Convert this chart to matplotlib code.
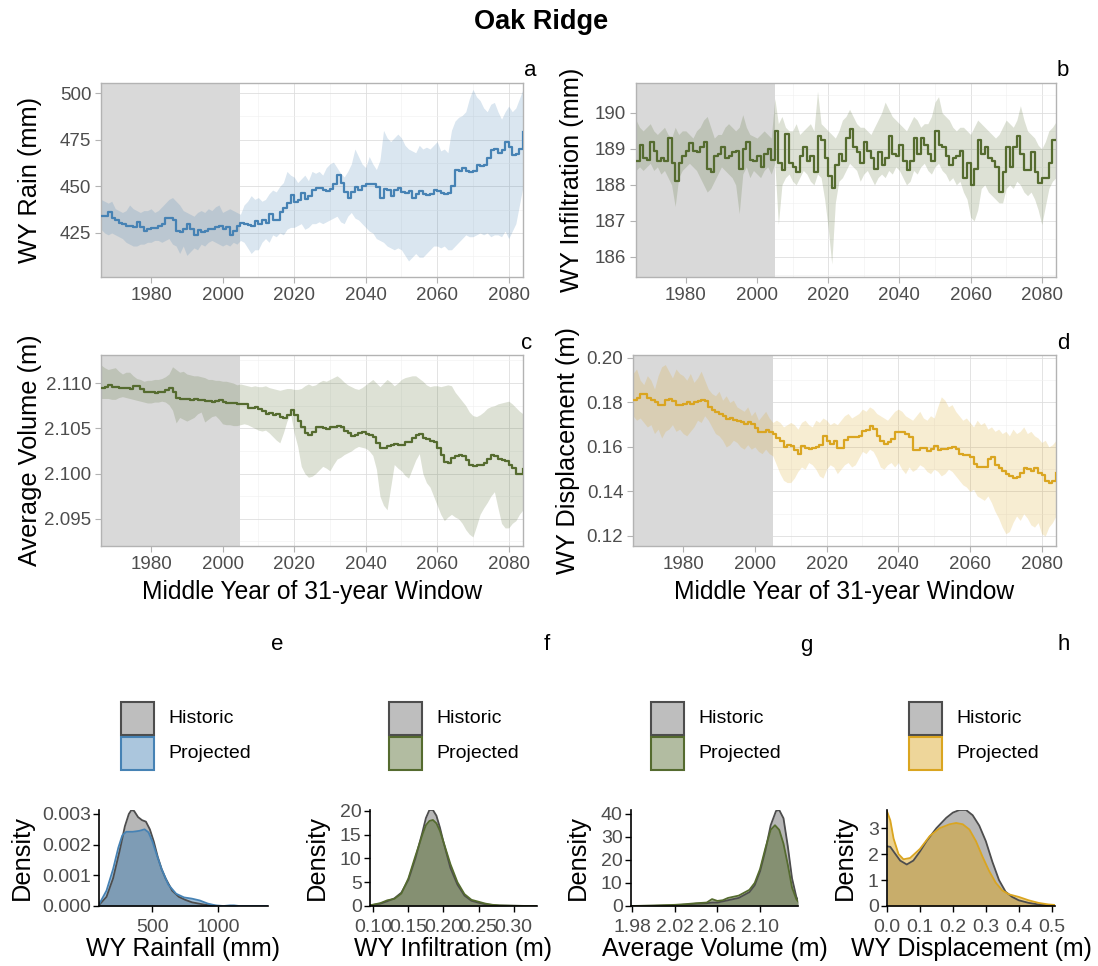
import numpy as np
import matplotlib
matplotlib.use("Agg")
import matplotlib.pyplot as plt
from matplotlib.patches import Rectangle
from matplotlib.ticker import MultipleLocator, FormatStrFormatter
from matplotlib.colors import to_rgba

plt.rcParams["font.family"] = ["Liberation Sans", "DejaVu Sans"]

W, H = 1098, 966

# ---------------------------------------------------------------- data
years = np.arange(1966, 2085)
HIST_END = 2005

rain_mean = [
    434, 434, 436, 433, 432, 430.5, 430, 429, 429, 428,
    431, 428, 426, 427, 427.5, 427.5, 429, 430, 433, 433,
    432, 426, 425.5, 427, 430, 427, 424, 426.5, 425.5, 426,
    427, 427, 428, 428.5, 427, 428, 424, 426, 429, 430.5,
    430, 429.5, 429, 431.5, 430, 432, 430.5, 435, 432, 432,
    436, 438.5, 441, 445.5, 441.5, 442.5, 446.5, 443, 445, 448,
    449, 449, 448, 447.5, 448.5, 451, 456, 452, 447, 444,
    447, 449.5, 448, 450, 451.5, 451.5, 451, 449.5, 444, 448.5,
    448, 445, 448, 449, 447, 446.5, 447.5, 444, 446, 447.5,
    446, 445.5, 446, 448, 447.5, 446.5, 446, 446.5, 450, 458.5,
    458, 460, 458, 457.5, 458, 461.5, 461, 461.5, 465, 469.5,
    470, 468, 469.5, 474, 471, 467, 467.5, 470, 479,
]
rain_high = [
    443, 442, 441, 442, 438, 437, 436, 437, 440, 438,
    437, 436, 437, 437, 438, 436, 437, 439, 441, 443,
    444, 442, 440, 437, 436, 435, 434, 436, 437, 436,
    438, 437, 439, 440, 436, 437, 438, 437, 436, 435,
    440, 442, 445, 443, 444, 442, 443, 446, 448, 447,
    450, 452, 458, 456, 455, 452, 454, 456, 453, 458,
    457, 458, 456, 460, 462, 463, 460, 457, 455, 458,
    462, 470, 466, 462, 460, 466, 462, 459, 464, 480,
    476, 474, 476, 478, 476, 472, 470, 469, 468, 472,
    470, 471, 470, 472, 474, 469, 470, 468, 480, 485,
    487, 488, 490, 497, 502, 498, 496, 492, 490, 494,
    495, 490, 486, 490, 493, 490, 492, 497, 502,
]
rain_low = [
    427, 425, 424, 425, 424, 423, 422, 420, 419, 418,
    418, 419, 419, 420, 420, 421, 421, 420, 421, 422,
    419, 418, 414, 418, 413, 415, 417, 416, 419, 418,
    420, 421, 420, 419, 418, 419, 418, 420, 419, 421,
    420, 417, 414, 416, 416, 420, 422, 420, 424, 423,
    425, 424, 427, 428, 428, 429, 430, 427, 428, 430,
    430, 431, 430, 431, 432, 433, 434, 431, 430, 434,
    436, 433, 432, 430, 428, 426, 425, 422, 421, 420,
    418, 417, 416, 417, 416, 413, 410, 412, 414, 412,
    412, 414, 416, 418, 418, 417, 418, 416, 416, 418,
    420, 422, 424, 423, 423, 424, 425, 424, 425, 423,
    424, 424, 423, 426, 422, 426, 430, 440, 450,
]

infil_mean = [
    188.65, 189.1, 188.75, 188.7, 189.2, 188.95, 188.65, 188.75, 188.65, 189.3,
    188.6, 188.1, 188.6, 188.8, 188.95, 189.15, 188.95, 188.9, 189.05, 189.2,
    188.45, 188.35, 188.8, 188.85, 189.05, 188.75, 188.8, 188.9, 188.95, 188.45,
    189.0, 189.2, 188.7, 188.65, 188.8, 188.5, 188.85, 189.0, 188.7, 189.5,
    188.6, 188.4, 189.4, 188.6, 188.5, 188.35, 188.8, 189.05, 188.65, 188.8,
    188.35, 189.35, 189.25, 188.75, 188.25, 187.9, 188.55, 188.85, 188.65, 189.3,
    189.55, 189.05, 188.9, 188.6, 189.2, 188.95, 188.75, 188.45, 188.9, 188.55,
    188.75, 189.35, 188.85, 188.8, 189.1, 188.65, 188.4, 188.65, 189.3, 188.85,
    189.3, 189.1, 188.85, 188.65, 189.5, 189.1, 189.05, 188.8, 188.55, 188.75,
    188.8, 188.95, 188.2, 188.6, 188.0, 188.45, 189.25, 188.85, 189.05, 188.75,
    188.65, 188.5, 187.8, 188.35, 189.05, 188.5, 189.05, 189.35, 188.85, 188.4,
    188.4, 188.9, 188.35, 188.05, 188.2, 188.2, 188.6, 189.25, 189.25,
]
infil_high = [
    189.8, 189.6, 189.5, 189.6, 189.7, 189.5, 189.4, 189.5, 189.6, 189.4,
    189.3, 189.6, 189.4, 189.5, 189.5, 189.4, 189.3, 189.5, 189.6, 189.8,
    189.9, 189.6, 189.3, 189.4, 189.4, 189.6, 189.7, 189.6, 189.5, 189.6,
    189.95, 189.6, 189.4, 189.35, 189.3, 189.4, 189.5, 189.4, 189.3, 190.4,
    189.7, 189.9, 189.6, 189.5, 189.5, 189.7, 189.4, 189.5, 189.6, 189.7,
    189.5, 190.6, 189.7, 189.6, 189.5, 189.4, 189.3, 189.5, 189.8, 189.9,
    190.1, 189.9, 189.7, 189.6, 189.6, 189.5, 189.4, 189.6, 189.8, 190.0,
    190.3, 190.1, 189.9, 189.8, 189.7, 189.6, 189.5, 189.7, 189.9, 189.8,
    189.6, 189.7, 189.7, 189.9, 190.3, 190.45, 190.0, 189.9, 189.8, 189.6,
    189.5, 189.6, 189.6, 189.5, 189.4, 189.6, 189.8, 189.7, 189.6, 189.5,
    189.4, 189.3, 189.4, 189.6, 189.8, 189.7, 189.6, 189.8, 190.2, 189.8,
    189.5, 189.4, 189.3, 189.1, 189.0, 189.2, 189.5, 189.6, 189.75,
]
infil_low = [
    188.4, 188.5, 188.4, 188.5, 188.6, 188.4, 188.5, 188.3, 188.4, 188.2,
    188.0, 187.4, 188.2, 188.4, 188.5, 188.6, 188.5, 188.4, 188.2, 188.0,
    187.8, 187.9, 188.1, 188.3, 188.5, 188.4, 188.3, 188.2, 188.0, 187.2,
    188.3, 188.5, 188.2, 188.4, 188.3, 188.2, 188.4, 188.5, 188.3, 188.6,
    186.9, 188.0, 188.2, 188.3, 188.1, 188.0, 188.2, 188.4, 188.3, 188.1,
    188.0, 188.3, 188.2, 187.6, 186.8, 185.8, 187.5, 188.1, 188.2, 188.4,
    188.6, 188.5, 188.4, 188.1, 188.3, 188.4, 188.2, 188.0, 188.2, 188.3,
    188.2, 188.4, 188.3, 188.5, 188.4, 188.2, 188.0, 188.1, 188.4, 188.3,
    188.5, 188.6, 188.4, 188.3, 188.5, 188.6, 188.4, 188.3, 188.1, 188.2,
    188.0, 188.1, 187.8, 187.6, 187.1, 187.0, 187.3, 187.9, 188.0, 187.8,
    187.7, 187.6, 187.5, 187.5, 187.9, 188.0, 187.9, 188.1, 188.0, 187.8,
    187.7, 187.8, 187.6, 187.3, 186.9, 187.4, 187.9, 188.1, 188.2,
]

vol_mean = [
    2.1095, 2.1096, 2.1098, 2.1096, 2.1096, 2.1095, 2.1095, 2.1094, 2.1093, 2.1097,
    2.1097, 2.1093, 2.1090, 2.1090, 2.1090, 2.1089, 2.1090, 2.1090, 2.1092, 2.1095,
    2.1090, 2.1084, 2.1082, 2.1082, 2.1082, 2.1081, 2.1082, 2.1081, 2.1081, 2.1080,
    2.1080, 2.1079, 2.1080, 2.1081, 2.1079, 2.1078, 2.1078, 2.1078, 2.1077, 2.1077,
    2.1077, 2.1072, 2.1073, 2.1074, 2.1071, 2.1069, 2.1066, 2.1067, 2.1065, 2.1066,
    2.1063, 2.1061, 2.1065, 2.1070, 2.1065, 2.1058, 2.1052, 2.1045, 2.1043, 2.1046,
    2.1051, 2.1052, 2.1050, 2.1049, 2.1051, 2.1052, 2.1053, 2.1051, 2.1047, 2.1045,
    2.1042, 2.1043, 2.1045, 2.1046, 2.1044, 2.1043, 2.1040, 2.1034, 2.1028, 2.1028,
    2.1031, 2.1032, 2.1033, 2.1032, 2.1032, 2.1035, 2.1035, 2.1039, 2.1043, 2.1044,
    2.1039, 2.1038, 2.1036, 2.1035, 2.1028, 2.1020, 2.1013, 2.1012, 2.1017, 2.1019,
    2.1020, 2.1019, 2.1015, 2.1009, 2.1008, 2.1009, 2.1009, 2.1012, 2.1016, 2.1020,
    2.1019, 2.1016, 2.1015, 2.1014, 2.1010, 2.1006, 2.1000, 2.1000, 2.1005,
]
vol_high = [
    2.1120, 2.1117, 2.1115, 2.1116, 2.1117, 2.1113, 2.1110, 2.1112, 2.1112, 2.1108,
    2.1105, 2.1104, 2.1102, 2.1103, 2.1103, 2.1104, 2.1104, 2.1105, 2.1107, 2.1110,
    2.1118, 2.1115, 2.1112, 2.1113, 2.1110, 2.1109, 2.1108, 2.1108, 2.1107, 2.1106,
    2.1104, 2.1104, 2.1103, 2.1103, 2.1102, 2.1102, 2.1101, 2.1100, 2.1098, 2.1099,
    2.1098, 2.1097, 2.1096, 2.1097, 2.1096, 2.1096, 2.1097, 2.1095, 2.1094, 2.1093,
    2.1092, 2.1093, 2.1094, 2.1094, 2.1093, 2.1093, 2.1094, 2.1097, 2.1099, 2.1097,
    2.1098, 2.1101, 2.1103, 2.1102, 2.1104, 2.1106, 2.1108, 2.1105, 2.1101, 2.1098,
    2.1096, 2.1094, 2.1093, 2.1095, 2.1098, 2.1101, 2.1104, 2.1100, 2.1096, 2.1100,
    2.1104, 2.1101, 2.1097, 2.1100, 2.1104, 2.1106, 2.1107, 2.1108, 2.1108, 2.1105,
    2.1102, 2.1098, 2.1096, 2.1097, 2.1097, 2.1096, 2.1097, 2.1098, 2.1097, 2.1090,
    2.1085, 2.1080, 2.1075, 2.1068, 2.1064, 2.1063, 2.1065, 2.1068, 2.1072, 2.1074,
    2.1075, 2.1077, 2.1078, 2.1079, 2.1080, 2.1077, 2.1073, 2.1069, 2.1066,
]
vol_low = [
    2.1083, 2.1083, 2.1083, 2.1082, 2.1082, 2.1084, 2.1085, 2.1084, 2.1083, 2.1082,
    2.1081, 2.1080, 2.1079, 2.1078, 2.1078, 2.1079, 2.1079, 2.1080, 2.1079, 2.1076,
    2.1070, 2.1056, 2.1062, 2.1060, 2.1058, 2.1060, 2.1062, 2.1066, 2.1068, 2.1057,
    2.1060, 2.1063, 2.1064, 2.1060, 2.1055, 2.1054, 2.1054, 2.1053, 2.1053, 2.1054,
    2.1055, 2.1054, 2.1052, 2.1050, 2.1048, 2.1047, 2.1048, 2.1045, 2.1041, 2.1037,
    2.1034, 2.1045, 2.1058, 2.1066, 2.1045, 2.1030, 2.1008, 2.1000, 2.0996, 2.0997,
    2.1000, 2.1004, 2.1008, 2.1006, 2.1003, 2.1010, 2.1016, 2.1018, 2.1021, 2.1023,
    2.1025, 2.1028, 2.1030, 2.1029, 2.1028, 2.1025, 2.1020, 2.1005, 2.0975, 2.0965,
    2.0960, 2.0985, 2.1010, 2.1006, 2.1003, 2.0998, 2.0995, 2.1005, 2.1015, 2.1022,
    2.1000, 2.0990, 2.0985, 2.0975, 2.0965, 2.0955, 2.0948, 2.0952, 2.0955, 2.0952,
    2.0950, 2.0945, 2.0938, 2.0933, 2.0930, 2.0942, 2.0955, 2.0962, 2.0968, 2.0975,
    2.0980, 2.0962, 2.0945, 2.0940, 2.0940, 2.0945, 2.0948, 2.0955, 2.0960,
]

disp_mean = [
    0.1813, 0.182, 0.184, 0.184, 0.182, 0.181, 0.180, 0.179, 0.179, 0.181,
    0.1815, 0.1805, 0.179, 0.179, 0.1795, 0.180, 0.1795, 0.180, 0.1805, 0.181,
    0.1805, 0.178, 0.1765, 0.1755, 0.175, 0.174, 0.1725, 0.173, 0.172, 0.1715,
    0.171, 0.1705, 0.171, 0.1705, 0.1685, 0.1665, 0.1665, 0.1675, 0.1665, 0.166,
    0.164, 0.1625, 0.160, 0.161, 0.1605, 0.1585, 0.157, 0.1605, 0.1595, 0.159,
    0.1595, 0.160, 0.161, 0.165, 0.1625, 0.1615, 0.1625, 0.1595, 0.1595, 0.163,
    0.1645, 0.1645, 0.1645, 0.165, 0.167, 0.1675, 0.1695, 0.168, 0.165, 0.1625,
    0.1615, 0.162, 0.1635, 0.1665, 0.1665, 0.1665, 0.166, 0.1645, 0.1585, 0.1585,
    0.1595, 0.1595, 0.158, 0.159, 0.1605, 0.1585, 0.159, 0.159, 0.1595, 0.160,
    0.159, 0.157, 0.1565, 0.1565, 0.1555, 0.1525, 0.151, 0.151, 0.151, 0.1545,
    0.1555, 0.152, 0.1505, 0.149, 0.148, 0.147, 0.146, 0.1465, 0.1485, 0.1505,
    0.150, 0.149, 0.1505, 0.1485, 0.1475, 0.1445, 0.144, 0.1445, 0.1485,
]
disp_high = [
    0.193, 0.195, 0.190, 0.188, 0.192, 0.190, 0.186, 0.192, 0.196, 0.197,
    0.194, 0.191, 0.195, 0.193, 0.192, 0.190, 0.193, 0.189, 0.191, 0.194,
    0.190, 0.186, 0.184, 0.183, 0.185, 0.181, 0.183, 0.180, 0.181, 0.178,
    0.177, 0.176, 0.178, 0.174, 0.176, 0.172, 0.174, 0.176, 0.173, 0.171,
    0.172, 0.171, 0.169, 0.170, 0.171, 0.170, 0.168, 0.171, 0.172, 0.170,
    0.169, 0.172, 0.171, 0.173, 0.172, 0.170, 0.171, 0.170, 0.172, 0.174,
    0.175, 0.173, 0.174, 0.175, 0.177, 0.176, 0.178, 0.177, 0.175, 0.174,
    0.173, 0.172, 0.174, 0.176, 0.177, 0.176, 0.174, 0.173, 0.172, 0.174,
    0.176, 0.173, 0.172, 0.174, 0.173, 0.178, 0.1825, 0.181, 0.178, 0.179,
    0.176, 0.174, 0.172, 0.173, 0.171, 0.169, 0.172, 0.170, 0.171, 0.168,
    0.169, 0.167, 0.168, 0.166, 0.167, 0.165, 0.168, 0.166, 0.167, 0.169,
    0.166, 0.167, 0.165, 0.164, 0.162, 0.163, 0.160, 0.161, 0.163,
]
disp_low = [
    0.174, 0.172, 0.173, 0.171, 0.169, 0.170, 0.166, 0.168, 0.164, 0.167,
    0.168, 0.170, 0.167, 0.168, 0.166, 0.165, 0.167, 0.169, 0.172, 0.171,
    0.174, 0.172, 0.169, 0.166, 0.165, 0.163, 0.160, 0.161, 0.163, 0.162,
    0.160, 0.159, 0.161, 0.159, 0.160, 0.158, 0.157, 0.159, 0.157, 0.156,
    0.152, 0.148, 0.145, 0.144, 0.144, 0.146, 0.149, 0.151, 0.150, 0.153,
    0.152, 0.150, 0.147, 0.146, 0.150, 0.152, 0.151, 0.148, 0.150, 0.152,
    0.153, 0.151, 0.152, 0.155, 0.158, 0.157, 0.159, 0.158, 0.155, 0.151,
    0.150, 0.152, 0.153, 0.151, 0.153, 0.150, 0.148, 0.151, 0.149, 0.150,
    0.152, 0.151, 0.149, 0.148, 0.150, 0.149, 0.147, 0.148, 0.150, 0.149,
    0.147, 0.145, 0.143, 0.142, 0.140, 0.141, 0.138, 0.137, 0.136, 0.138,
    0.135, 0.131, 0.128, 0.124, 0.121, 0.122, 0.126, 0.129, 0.127, 0.130,
    0.128, 0.125, 0.124, 0.126, 0.121, 0.120, 0.124, 0.126, 0.129,
]

# density curves (historic vs projected)
rain_x_hist = [93, 150, 200, 250, 290, 320, 340, 360, 390, 420, 450, 480, 510,
               540, 570, 600, 650, 700, 750, 800, 850, 900, 950, 1000]
rain_d_hist = [0.00003, 0.0003, 0.0009, 0.0018, 0.0026, 0.0030, 0.00313, 0.0031,
               0.0029, 0.0028, 0.00275, 0.0025, 0.0021, 0.0016, 0.0012, 0.0009,
               0.0005, 0.0003, 0.0002, 0.00012, 0.00008, 0.00004, 0.00002, 0.0]
rain_x_proj = [93, 150, 200, 240, 270, 300, 350, 400, 440, 470, 500, 530, 570,
               620, 680, 740, 800, 860, 920, 980, 1040, 1090, 1120, 1160, 1379]
rain_d_proj = [0.00005, 0.0005, 0.0012, 0.0019, 0.0023, 0.00242, 0.00242,
               0.00245, 0.0025, 0.0024, 0.0021, 0.0017, 0.0012, 0.0007, 0.0004,
               0.00028, 0.00024, 0.00018, 0.00008, 0.00002, 0.0, 0.00002,
               0.00002, 0.0, 0.0]

inf_x_hist = [0.0953, 0.11, 0.12, 0.13, 0.14, 0.15, 0.16, 0.17, 0.175, 0.18,
              0.185, 0.19, 0.195, 0.20, 0.21, 0.22, 0.23, 0.24, 0.25, 0.26,
              0.27, 0.28, 0.30, 0.32, 0.3334]
inf_d_hist = [0.1, 0.5, 1.0, 1.6, 2.8, 5.5, 10, 15.5, 18.5, 20.2, 20.2, 19,
              16.5, 13.5, 8, 4.5, 2.2, 1.1, 0.7, 0.35, 0.2, 0.1, 0.05, 0.0, 0.0]
inf_x_proj = inf_x_hist
inf_d_proj = [0.15, 0.6, 1.2, 1.5, 2.6, 5.8, 10.5, 15, 17, 17.9, 18.1, 17.4,
              15.8, 13.5, 8.8, 5, 2.5, 1.3, 0.9, 0.5, 0.25, 0.12, 0.05, 0.01, 0.0]

vol_x_hist = [1.979, 2.00, 2.02, 2.03, 2.04, 2.05, 2.055, 2.06, 2.07, 2.08,
              2.09, 2.095, 2.10, 2.105, 2.11, 2.115, 2.118, 2.122, 2.126,
              2.13, 2.134, 2.1356]
vol_d_hist = [0, 0.1, 0.3, 0.6, 1.0, 1.2, 1.5, 1.5, 2.5, 3.5, 6, 9, 15, 24,
              35, 41.2, 41.6, 38, 26, 12, 4, 2.5]
vol_x_proj = [1.979, 2.00, 2.02, 2.03, 2.04, 2.05, 2.055, 2.06, 2.065, 2.07,
              2.08, 2.09, 2.095, 2.10, 2.105, 2.11, 2.114, 2.118, 2.122,
              2.126, 2.13, 2.134, 2.1356]
vol_d_proj = [0, 0.2, 0.5, 0.8, 1.2, 1.5, 3.0, 2.2, 2.5, 3.5, 4.5, 7, 10, 16,
              25, 33, 35, 33, 27, 18, 8, 3, 2]

disp_x_hist = [0.0, 0.01, 0.02, 0.04, 0.06, 0.08, 0.10, 0.12, 0.15, 0.18,
               0.20, 0.22, 0.24, 0.26, 0.28, 0.30, 0.32, 0.34, 0.36, 0.38,
               0.40, 0.43, 0.46, 0.49, 0.51]
disp_d_hist = [2.3, 2.28, 2.1, 1.75, 1.6, 1.75, 2.1, 2.5, 3.0, 3.4, 3.6, 3.7,
               3.7, 3.5, 3.1, 2.5, 1.7, 1.0, 0.55, 0.35, 0.22, 0.12, 0.06,
               0.03, 0.02]
disp_x_proj = [0.0, 0.01, 0.02, 0.035, 0.05, 0.07, 0.10, 0.13, 0.16, 0.19,
               0.21, 0.23, 0.25, 0.27, 0.29, 0.31, 0.33, 0.35, 0.37, 0.40,
               0.43, 0.46, 0.49, 0.51]
disp_d_proj = [3.65, 3.3, 2.6, 2.0, 1.8, 1.85, 2.2, 2.7, 3.0, 3.15, 3.2,
               3.15, 2.95, 2.5, 1.9, 1.35, 0.9, 0.6, 0.45, 0.35, 0.22, 0.12,
               0.06, 0.04]

BLUE = "#4682b4"
GREEN = "#556b2f"
GOLD = "#daa520"
HIST_FILL = "#707070"
HIST_EDGE = "#4d4d4d"
TICK_GREY = "#4d4d4d"


# ---------------------------------------------------------------- helpers
fig = plt.figure(figsize=(W / 100, H / 100), dpi=100)


def px_axes(x0, y0, x1, y1):
    """Axes from pixel box (left, top, right, bottom), origin top-left."""
    return fig.add_axes([x0 / W, 1 - y1 / H, (x1 - x0) / W, (y1 - y0) / H])


def px_text(x, y, s, **kw):
    fig.text(x / W, 1 - y / H, s, ha="center", va="center", **kw)


def ts_panel(box, mean, low, high, color, ylim, ystep, fmt, ylabel, ylab_x,
             xlabel=False):
    ax = px_axes(*box)
    ax.axvspan(1900, HIST_END, color="#d9d9d9", lw=0, zorder=1)
    ax.fill_between(years, low, high, color=color, alpha=0.2, lw=0, zorder=2)
    ax.step(years, mean, where="post", color=color, lw=1.6, zorder=3)
    ax.set_xlim(years[0], years[-1])
    ax.set_ylim(*ylim)
    ax.xaxis.set_major_locator(MultipleLocator(20))
    ax.xaxis.set_minor_locator(MultipleLocator(10))
    ax.yaxis.set_major_locator(MultipleLocator(ystep))
    ax.yaxis.set_minor_locator(MultipleLocator(ystep / 2))
    ax.yaxis.set_major_formatter(FormatStrFormatter(fmt))
    ax.grid(which="major", color="#dedede", lw=0.6)
    ax.grid(which="minor", color="#f0f0f0", lw=0.4)
    ax.set_axisbelow(True)
    for sp in ax.spines.values():
        sp.set_color("#b3b3b3")
        sp.set_linewidth(1.0)
    ax.tick_params(which="major", length=4, color="#b3b3b3", labelsize=13.5,
                   labelcolor=TICK_GREY, pad=3)
    ax.tick_params(which="minor", length=0)
    ax.set_ylabel(ylabel, fontsize=18.3, va="center")
    ax.yaxis.set_label_coords((ylab_x - box[0]) / (box[2] - box[0]), 0.5)
    if xlabel:
        ax.set_xlabel("Middle Year of 31-year Window", fontsize=17.7,
                      va="center")
        ax.xaxis.set_label_coords(0.5, -(592 - box[3]) / (box[3] - box[1]))
    return ax


def dens_panel(box, xh, yh, xp, yp, color, xticks, xfmt, ystep, yfmt,
               xlabel, ylab_x):
    ax = px_axes(*box)
    ax.fill_between(xh, 0, yh, color=HIST_FILL, alpha=0.5, lw=0)
    ax.plot(xh, yh, color=HIST_EDGE, lw=1.3)
    ax.fill_between(xp, 0, yp, color=color, alpha=0.5, lw=0)
    ax.plot(xp, yp, color=color, lw=1.3)
    ax.set_xlim(min(xh[0], xp[0]), max(xh[-1], xp[-1]))
    ax.set_ylim(0, max(max(yh), max(yp)))
    ax.set_xticks(xticks)
    ax.xaxis.set_major_formatter(FormatStrFormatter(xfmt))
    ax.yaxis.set_major_locator(MultipleLocator(ystep))
    ax.yaxis.set_major_formatter(FormatStrFormatter(yfmt))
    ax.spines["top"].set_visible(False)
    ax.spines["right"].set_visible(False)
    for s in ("left", "bottom"):
        ax.spines[s].set_color("black")
        ax.spines[s].set_linewidth(1.2)
    ax.tick_params(length=4, color="black", width=1.0, labelsize=14,
                   labelcolor=TICK_GREY, pad=2)
    ax.tick_params(axis="x", pad=5)
    ax.set_ylabel("Density", fontsize=18.3, va="center")
    ax.yaxis.set_label_coords((ylab_x - box[0]) / (box[2] - box[0]), 0.5)
    ax.set_xlabel(xlabel, fontsize=17.9, va="center")
    ax.xaxis.set_label_coords(0.5, -(949 - box[3]) / (box[3] - box[1]))
    return ax


def legend_keys(x0, color):
    entries = [("Historic", HIST_FILL, HIST_EDGE, 702),
               ("Projected", color, color, 737)]
    for name, face, edge, y0 in entries:
        fig.add_artist(Rectangle((x0 / W, 1 - (y0 + 33) / H), 33 / W, 33 / H,
                                 transform=fig.transFigure,
                                 facecolor=to_rgba(face, 0.45),
                                 edgecolor=edge, lw=1.5))
        fig.text((x0 + 47) / W, 1 - (y0 + 16.5) / H, name, fontsize=14,
                 ha="left", va="center", color="black")


# ---------------------------------------------------------------- figure
px_text(541, 22, "Oak Ridge", fontsize=19.5, fontweight="bold")

ts_panel((101, 83, 523, 277), rain_mean, rain_low, rain_high, BLUE,
         (401.4, 505.4), 25, "%d", "WY Rain (mm)", 30)
ts_panel((636, 83, 1056, 277), infil_mean, infil_low, infil_high, GREEN,
         (185.44, 190.83), 1, "%d", "WY Infiltration (mm)", 572)
ts_panel((101, 355, 523, 546), vol_mean, vol_low, vol_high, GREEN,
         (2.0920, 2.1131), 0.005, "%.3f", "Average Volume (m)", 30,
         xlabel=True)
ts_panel((633, 355, 1056, 546), disp_mean, disp_low, disp_high, GOLD,
         (0.1155, 0.2013), 0.02, "%.2f", "WY Displacement (m)", 568,
         xlabel=True)

for (x, y, s) in [(530, 70, "a"), (1063, 70, "b"), (527, 344, "c"),
                  (1063, 344, "d"), (277, 645, "e"), (547, 645, "f"),
                  (806, 645, "g"), (1064, 645, "h")]:
    px_text(x, y, s, fontsize=16)

dens_panel((99, 810, 268, 906), rain_x_hist, rain_d_hist, rain_x_proj,
           rain_d_proj, BLUE, [500, 1000], "%d", 0.001, "%.3f",
           "WY Rainfall (mm)", 22)
dens_panel((370, 810, 537, 906), inf_x_hist, inf_d_hist, inf_x_proj,
           inf_d_proj, GREEN, [0.10, 0.15, 0.20, 0.25, 0.30], "%.2f", 5,
           "%d", "WY Infiltration (m)", 317)
dens_panel((631, 810, 798, 906), vol_x_hist, vol_d_hist, vol_x_proj,
           vol_d_proj, GREEN, [1.98, 2.02, 2.06, 2.10], "%.2f", 10, "%d",
           "Average Volume (m)", 578)
dens_panel((887, 810, 1055, 906), disp_x_hist, disp_d_hist, disp_x_proj,
           disp_d_proj, GOLD, [0.0, 0.1, 0.2, 0.3, 0.4, 0.5], "%.1f", 1,
           "%d", "WY Displacement (m)", 845)

legend_keys(121, BLUE)
legend_keys(389, GREEN)
legend_keys(651, GREEN)
legend_keys(909, GOLD)

fig.savefig("out.png", dpi=100)
